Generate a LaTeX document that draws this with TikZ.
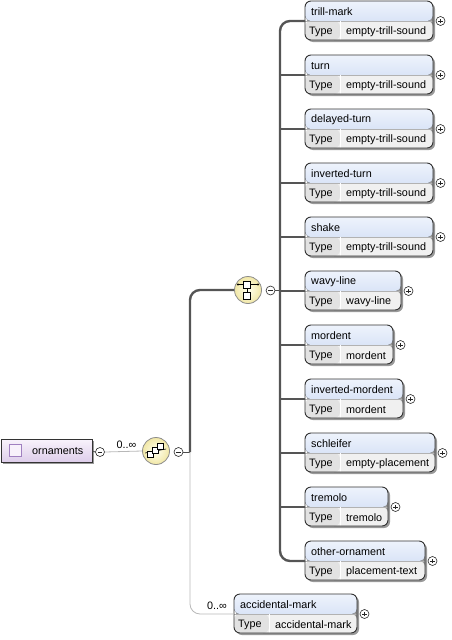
\documentclass[tikz,border=0pt]{standalone}
\usepackage{fontspec}
\setmainfont{Liberation Sans}
\usetikzlibrary{calc,shadows}
\definecolor{hdrtop}{HTML}{EEF3FC}
\definecolor{hdrbot}{HTML}{C6D6F2}
\definecolor{typebg}{HTML}{F0F0F0}
\definecolor{typekey}{HTML}{E2E2E2}
\definecolor{boxline}{HTML}{333333}
\definecolor{barcol}{HTML}{555555}
\definecolor{thincol}{HTML}{B8B8B8}
\definecolor{lavtop}{HTML}{F8F2FB}
\definecolor{lavbot}{HTML}{DDCDEA}
\definecolor{lavline}{HTML}{A080C0}
\definecolor{ballin}{HTML}{FFFFEE}
\definecolor{ballout}{HTML}{F1E7A6}
\newcommand\elem[6]{%
  \node[elembox, minimum width=#4pt, anchor=north west] (#1) at (#2,#3) {};
  \node[lbl] (#1-t) at ($(#1.north west)+(6,11)$) {#5};
  \node[lbl] (#1-k) at ($(#1.north west)+(4,31)$) {Type};
  \node[lbl] (#1-v) at ($(#1.north west)+(41,31)$) {#6};
  \node[plusnode] (#1-p) at ($(#1.north east)+(7.5,20)$) {};
  \coordinate (#1-c) at ($(#1.north west)+(0,20)$);
}
\begin{document}
\begin{tikzpicture}[x=1pt,y=-1pt, font=\fontsize{10.8}{12}\selectfont,
  lbl/.style={anchor=west, inner sep=0pt, text=black},
  elembox/.style={draw=boxline, line width=0.9pt, rounded corners=6pt,
    minimum height=39pt, inner sep=0pt, outer sep=0pt,
    drop shadow={shadow xshift=2pt, shadow yshift=-2pt, fill=black, opacity=0.4},
    path picture={
      \fill[top color=hdrtop,bottom color=hdrbot] (path picture bounding box.north west) rectangle ([yshift=-20pt]path picture bounding box.north east);
      \fill[typebg] ([yshift=-20pt]path picture bounding box.north west) rectangle (path picture bounding box.south east);
      \fill[typekey] ([yshift=-20pt]path picture bounding box.north west) rectangle ([xshift=35pt]path picture bounding box.south west);
      \draw[black!30, line width=0.6pt] ([yshift=-20pt]path picture bounding box.north west) -- ([yshift=-20pt]path picture bounding box.north east);
      \draw[white, line width=0.8pt] ([xshift=35pt,yshift=-20pt]path picture bounding box.north west) -- ([xshift=35pt]path picture bounding box.south west);
    }},
  signnode/.style={circle, draw=black!85, fill=white, line width=0.6pt, minimum size=9pt, inner sep=0pt},
  plusnode/.style={signnode, path picture={
      \draw[line width=0.7pt] ([xshift=-2.3pt]path picture bounding box.center) -- ([xshift=2.3pt]path picture bounding box.center);
      \draw[line width=0.7pt] ([yshift=-2.3pt]path picture bounding box.center) -- ([yshift=2.3pt]path picture bounding box.center);}},
  minusnode/.style={signnode, path picture={
      \draw[line width=0.7pt] ([xshift=-2.3pt]path picture bounding box.center) -- ([xshift=2.3pt]path picture bounding box.center);}},
  ball/.style={circle, draw=black!45, line width=0.8pt, inner color=ballin, outer color=ballout, minimum size=27pt, inner sep=0pt},
  thickline/.style={draw=barcol, line width=2.4pt},
  thinline/.style={draw=thincol, line width=0.8pt},
  darkthin/.style={draw=black!70, line width=0.8pt},
  card/.style={inner sep=0pt, font=\fontsize{10.8}{12}\selectfont}
]
\useasboundingbox (0,0) rectangle (451,640);

% root element
\node[draw=boxline, line width=0.9pt, top color=lavtop, bottom color=lavbot,
  minimum width=91pt, minimum height=23pt, inner sep=0pt, anchor=north west,
  drop shadow={shadow xshift=2pt, shadow yshift=-2pt, fill=black, opacity=0.4}] (orn) at (0.5,439) {};
\node[draw=lavline, fill=lavtop, line width=0.8pt, minimum size=12pt, inner sep=0pt] (orn-i) at (15.5,450.5) {};
\node[lbl] (orn-t) at (32,451.5) {ornaments};
\node[minusnode] (orn-m) at (100,452) {};

% sequence
\node[ball] (seq) at (156,451) {};
\node[minusnode] (seq-m) at (178.5,452) {};
\begin{scope}[line width=0.6pt]
  \draw (seq.west) ++(3,2) coordinate (sq0) -- ++(21,-4) coordinate (sq1);
  \node[draw, fill=white, minimum size=6pt, inner sep=0pt] (sqa) at (150.5,454.5) {};
  \node[draw, fill=white, minimum size=6pt, inner sep=0pt] (sqb) at (155.5,450.5) {};
  \node[draw, fill=white, minimum size=6pt, inner sep=0pt] (sqc) at (160.5,446.5) {};
\end{scope}

% choice
\node[ball] (choice) at (248,290) {};
\node[minusnode] (choice-m) at (270.5,290.5) {};
\begin{scope}[line width=0.6pt]
  \coordinate (chl) at (238,284.5);
  \coordinate (chr) at (258,284.5);
  \draw (chl) -- (chr);
  \fill (chl) circle (1.1pt) (chr) circle (1.1pt);
  \node[draw, fill=white, minimum size=7pt, inner sep=0pt] (cha) at (247,284.5) {};
  \node[draw, fill=white, minimum size=7pt, inner sep=0pt] (chb) at (247,295.5) {};
  \draw (cha.south) -- (chb.north);
\end{scope}

% elements
\elem{e1}{305}{1}{128}{trill-mark}{empty-trill-sound}
\elem{e2}{305}{55}{128}{turn}{empty-trill-sound}
\elem{e3}{305}{109}{128}{delayed-turn}{empty-trill-sound}
\elem{e4}{305}{163}{128}{inverted-turn}{empty-trill-sound}
\elem{e5}{305}{217}{128}{shake}{empty-trill-sound}
\elem{e6}{305}{271}{96}{wavy-line}{wavy-line}
\elem{e7}{305}{325}{88}{mordent}{mordent}
\elem{e8}{305}{379}{98}{inverted-mordent}{mordent}
\elem{e9}{305}{433}{130}{schleifer}{empty-placement}
\elem{e10}{305}{487}{83}{tremolo}{tremolo}
\elem{e11}{305}{541}{120}{other-ornament}{placement-text}
\elem{acc}{234}{594}{123}{accidental-mark}{accidental-mark}

% connectors
\draw[darkthin] (orn.east) -- (orn-m.west);
\draw[thinline] (orn-m.east) -- (seq.west);
\node[card] (orn-card) at (126.5,445) {0..∞};
\coordinate (j) at (190,452);
\draw[darkthin] (seq-m.east) -- (j);
\draw[thickline, rounded corners=10pt] (j) |- (choice.west);
\draw[thinline, rounded corners=10pt] (j) |- (acc-c);
\node[card] (acc-card) at (217,606) {0..∞};
\coordinate (bar) at (280,290.5);
\draw[darkthin] (choice-m.east) -- (bar);
\draw[thickline, rounded corners=10pt] (e1-c) -| (bar) |- (e11-c);
\foreach \i in {2,...,10} {
  \draw[thickline] (e\i-c -| bar) -- (e\i-c);
}
\end{tikzpicture}
\end{document}
